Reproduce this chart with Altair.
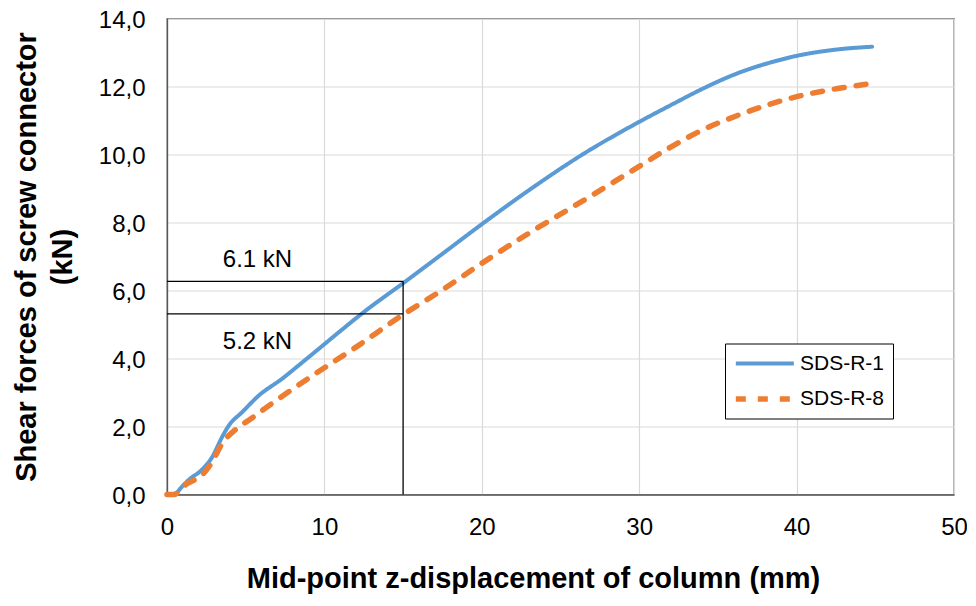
import altair as alt
import pandas as pd

# ---- data ----
series_names = ["SDS-R-1", "SDS-R-8"]

blue_x = [0.55, 0.63, 1.38, 2.2, 2.87, 3.5, 3.93, 4.77, 5.83, 7.3, 8.5, 9.84, 11.2, 12.57,
          14.9, 17.5, 20, 23.15, 26.5, 30, 32, 34.1, 36.2, 38.3, 40, 42.6, 44.8]
blue_y = [0.0, 0.05, 0.43, 0.72, 1.1, 1.69, 2.03, 2.42, 2.91, 3.4, 3.85, 4.36, 4.88, 5.39,
          6.18, 7.08, 7.95, 9.0, 10.03, 10.96, 11.45, 11.95, 12.38, 12.7, 12.9, 13.09, 13.17]

orange_x = [0, 0.42, 1.27, 2.2, 2.87, 3.5, 4.33, 5.4, 6.25, 6.89, 9.42, 11.96, 14.9, 17.5,
            20, 23.15, 26.5, 30, 32, 34.1, 36.2, 38.3, 40, 42.6, 44.8]
orange_y = [0.0, 0.0, 0.32, 0.56, 0.96, 1.5, 1.9, 2.25, 2.54, 2.75, 3.55, 4.32, 5.26, 6.02,
            6.8, 7.73, 8.66, 9.65, 10.22, 10.74, 11.14, 11.48, 11.7, 11.94, 12.09]

# annotation guide lines and labels
guide_x = 15
guide_levels = [6.27, 5.31]
note_texts = ["6.1 kN", "5.2 kN"]
note_x = [5.75, 5.75]
note_y = [6.69, 4.29]

x_title = "Mid-point z-displacement of column (mm)"
y_title = ["Shear forces of screw connector", "(kN)"]

colors = ["#5b9bd5", "#ed7d31"]

# ---- tables ----
curves = pd.concat([
    pd.DataFrame({"series": series_names[0], "x": blue_x, "y": blue_y, "order": range(len(blue_x))}),
    pd.DataFrame({"series": series_names[1], "x": orange_x, "y": orange_y, "order": range(len(orange_x))}),
])
hlines = pd.DataFrame({"x0": [0, 0], "x1": [guide_x, guide_x], "y": guide_levels})
vline = pd.DataFrame({"x": [guide_x], "y0": [0], "y1": [max(guide_levels)]})
notes = pd.DataFrame({"x": note_x, "y": note_y, "t": note_texts})

W, H = 787, 476
FONT = "Liberation Sans"

xscale = alt.Scale(domain=[0, 50], nice=False)
yscale = alt.Scale(domain=[0, 14], nice=False)

x_axis = alt.Axis(
    values=[0, 10, 20, 30, 40, 50], title=x_title, grid=True, ticks=False,
    labelFontSize=24, labelPadding=21, labelColor="black", labelFont=FONT,
    titleFontSize=29, titleFont=FONT, titleFontWeight="bold", titleColor="black",
    titleX=366, titleY=93, titleBaseline="alphabetic", titleAlign="center",
    domainColor="#595959", domainWidth=1.3, gridColor="#d9d9d9", gridWidth=1.2,
    labelFlush=False,
)
y_axis = alt.Axis(
    values=[0, 2, 4, 6, 8, 10, 12, 14], title=y_title, grid=True, ticks=False,
    labelExpr="replace(format(datum.value, '.1f'), '.', ',')",
    labelFontSize=24, labelPadding=22, labelColor="black", labelFont=FONT,
    labelOffset=2,
    titleFontSize=29, titleFont=FONT, titleFontWeight="bold", titleColor="black",
    titleAngle=-90, titleX=-132, titleY=H / 2, titleBaseline="alphabetic",
    titleAlign="center", titleLineHeight=36,
    domainColor="#595959", domainWidth=1.3, gridColor="#d9d9d9", gridWidth=1.2,
    labelFlush=False,
)

lines = alt.Chart(curves).mark_line(interpolate="monotone", strokeCap="round").encode(
    x=alt.X("x:Q", scale=xscale, axis=x_axis),
    y=alt.Y("y:Q", scale=yscale, axis=y_axis),
    order="order:Q",
    color=alt.Color("series:N", scale=alt.Scale(domain=series_names, range=colors),
                    legend=alt.Legend(
                        title=None, orient="none", legendX=558, legendY=325,
                        strokeColor="black", fillColor="white", padding=8,
                        labelFontSize=21, labelFont=FONT, labelColor="black",
                        symbolType="M-1,0H5", symbolSize=374, symbolStrokeWidth=4.5,
                        labelOffset=42, rowPadding=13,
                    )),
    strokeDash=alt.StrokeDash("series:N",
                              scale=alt.Scale(domain=series_names, range=[[1, 0], [10, 12]]),
                              legend=None),
    strokeWidth=alt.StrokeWidth("series:N",
                                scale=alt.Scale(domain=series_names, range=[4, 5.5]),
                                legend=None),
)

h_rules = alt.Chart(hlines).mark_rule(color="black", strokeWidth=1.3).encode(
    x=alt.X("x0:Q", scale=xscale), x2="x1:Q", y=alt.Y("y:Q", scale=yscale)
)
v_rule = alt.Chart(vline).mark_rule(color="black", strokeWidth=1.3).encode(
    x=alt.X("x:Q", scale=xscale), y=alt.Y("y0:Q", scale=yscale), y2="y1:Q"
)
labels = alt.Chart(notes).mark_text(fontSize=24, font=FONT, color="black",
                                    align="center", baseline="alphabetic").encode(
    x=alt.X("x:Q", scale=xscale), y=alt.Y("y:Q", scale=yscale), text="t:N"
)

chart = alt.layer(lines, h_rules, v_rule, labels).properties(
    width=W, height=H,
    autosize=alt.AutoSizeParams(type="none"),
    padding={"left": 159, "top": 10.5, "right": 13, "bottom": 100},
    background="white",
).configure_view(stroke="#595959", strokeWidth=1.3)

chart.save("out.html", embed_options={"renderer": "svg", "actions": False})
